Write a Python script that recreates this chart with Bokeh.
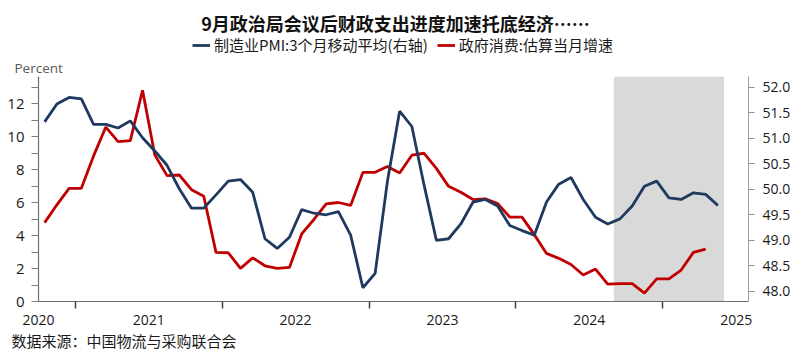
from bokeh.plotting import figure
from bokeh.layouts import column
from bokeh.models import (Range1d, LinearAxis, FixedTicker, BoxAnnotation, Legend,
                          LegendItem, Label, Title, NumeralTickFormatter)
from bokeh.embed import file_html
from bokeh.resources import INLINE

# ---------------- data ----------------
start_year, start_month = 2020, 10   # first observation: Oct 2020

pmi_3m_avg = [51.32, 51.67, 51.80, 51.77, 51.27, 51.27, 51.20, 51.34, 51.01, 50.75,
              50.47, 50.01, 49.63, 49.63, 49.89, 50.16, 50.19, 49.94, 49.03, 48.84,
              49.06, 49.60, 49.53, 49.50, 49.56, 49.10, 48.07, 48.35, 50.15, 51.53,
              51.23, 50.08, 49.00, 49.03, 49.32, 49.75, 49.80, 49.67, 49.29, 49.19,
              49.10, 49.75, 50.10, 50.23, 49.80, 49.45, 49.32, 49.42, 49.67, 50.06,
              50.16, 49.83, 49.80, 49.93, 49.90, 49.68]

gov_consumption = [4.79, 5.87, 6.87, 6.87, 8.84, 10.59, 9.71, 9.77, 12.82, 8.90,
                   7.64, 7.68, 6.79, 6.39, 2.98, 2.96, 2.01, 2.65, 2.17, 2.01,
                   2.07, 4.10, 4.98, 5.93, 6.01, 5.83, 7.84, 7.84, 8.20, 7.80,
                   8.88, 9.00, 8.08, 6.99, 6.63, 6.19, 6.23, 5.95, 5.12, 5.12,
                   4.06, 2.92, 2.62, 2.25, 1.61, 1.97, 1.05, 1.08, 1.08, 0.51,
                   1.37, 1.37, 1.91, 2.98, 3.18]

year_labels = ["2020", "2021", "2022", "2023", "2024", "2025"]
year_label_months = [(2020, 10), (2021, 7), (2022, 7), (2023, 7), (2024, 7), (2025, 7)]
year_boundaries = [2021, 2022, 2023, 2024, 2025]
shade_from = (2024, 9)
shade_to = (2025, 5)

left_ticks = [0, 2, 4, 6, 8, 10, 12]
left_minor = [1, 3, 5, 7, 9, 11, 13]
right_ticks = [48.0, 48.5, 49.0, 49.5, 50.0, 50.5, 51.0, 51.5, 52.0]

title_text = "9月政治局会议后财政支出进度加速托底经济……"
name_pmi = "制造业PMI:3个月移动平均(右轴)"
name_gov = "政府消费:估算当月增速"
left_unit = "Percent"
source_text = "数据来源：中国物流与采购联合会"


def midx(y, m):
    return (y - 2020) * 12 + (m - 1)


x0 = midx(start_year, start_month)
x_pmi = [x0 + i + 0.5 for i in range(len(pmi_3m_avg))]
x_gov = [x0 + i + 0.5 for i in range(len(gov_consumption))]
label_pos = [midx(y, m) for (y, m) in year_label_months]
label_pos[0] = x0
boundary_pos = [midx(y, 1) for y in year_boundaries]

NAVY = "#1f3a5f"
RED = "#c00000"
CJK = "Noto Sans CJK SC"
NUM = "Open Sans"
W = 798
LB, RB = 38, 50          # frame borders (shared by both figures)

# ---------------- header (title + legend) ----------------
HH = 56
hdr = figure(width=W, height=HH, output_backend="svg", toolbar_location=None,
             x_range=Range1d(LB, W - RB), y_range=Range1d(0, HH),
             x_axis_location=None, y_axis_location=None,
             min_border_left=LB, min_border_right=RB, min_border_top=0, min_border_bottom=0)
hdr.outline_line_color = None
hdr.grid.visible = False

hdr.add_layout(Label(x=395, y=HH - 22, text=title_text, text_align="center",
                     text_baseline="middle", text_font=CJK, text_font_size="18px",
                     text_font_style="bold", text_color="#111111"))

# legend swatches (the lines themselves lie outside the header's visible range)
d1 = hdr.line([-1000, -999], [-1000, -1000], line_color=NAVY, line_width=2.8)
d2 = hdr.line([-1000, -999], [-1000, -1000], line_color=RED, line_width=2.8)
legend = Legend(items=[LegendItem(label=name_pmi, renderers=[d1]),
                       LegendItem(label=name_gov, renderers=[d2])],
                orientation="horizontal", location=(192 - LB, HH - 55),
                label_text_font=CJK, label_text_font_size="15px", label_text_color="#1a1a1a",
                glyph_width=18, glyph_height=20, label_height=20, spacing=9, padding=0, margin=0,
                border_line_color=None, background_fill_alpha=0, label_standoff=4)
hdr.add_layout(legend, "center")

# ---------------- main chart ----------------
p = figure(width=W, height=363 - HH, output_backend="svg", toolbar_location=None,
           x_range=Range1d(x0, midx(2025, 8)), y_range=Range1d(0, 13.66),
           min_border_left=LB, min_border_right=RB, min_border_top=74 - HH,
           min_border_bottom=62)
p.extra_y_ranges = {"pmi": Range1d(47.80, 52.21)}
p.outline_line_color = None
p.grid.visible = False

p.add_layout(BoxAnnotation(left=midx(*shade_from), right=midx(*shade_to) + 1,
                           fill_color="#d9d9d9", fill_alpha=1.0, line_color=None,
                           level="underlay"))

p.line(x_gov, gov_consumption, line_color=RED, line_width=2.8)
p.line(x_pmi, pmi_3m_avg, line_color=NAVY, line_width=2.8, y_range_name="pmi")

xa = p.xaxis[0]
xa.ticker = FixedTicker(ticks=label_pos, minor_ticks=boundary_pos)
xa.major_label_overrides = {v: t for v, t in zip(label_pos, year_labels)}
xa.major_tick_out = 0
xa.major_tick_in = 0
xa.minor_tick_out = 7
xa.minor_tick_in = 0
xa.minor_tick_line_color = "#404040"
xa.minor_tick_line_width = 1.5
xa.axis_line_color = "#6d6d6d"
xa.axis_line_width = 1.2
xa.major_label_text_font = NUM
xa.major_label_text_font_size = "14px"
xa.major_label_text_color = "#1a1a1a"
xa.major_label_standoff = 6

ya = p.yaxis[0]
ya.ticker = FixedTicker(ticks=left_ticks, minor_ticks=left_minor)
ya.major_tick_out = 7
ya.major_tick_in = 0
ya.minor_tick_out = 7
ya.minor_tick_in = 0
ya.major_tick_line_color = "#808080"
ya.minor_tick_line_color = "#808080"
ya.axis_line_color = "#6d6d6d"
ya.axis_line_width = 1.2
ya.major_label_text_font = NUM
ya.major_label_text_font_size = "15px"
ya.major_label_text_color = "#1a1a1a"
ya.major_label_standoff = 7

ra = LinearAxis(y_range_name="pmi", ticker=FixedTicker(ticks=right_ticks),
                formatter=NumeralTickFormatter(format="0.0"))
ra.major_tick_out = 6
ra.major_tick_in = 0
ra.minor_tick_out = 0
ra.minor_tick_in = 0
ra.major_tick_line_color = "#909090"
ra.axis_line_color = "#a0a0a0"
ra.major_label_text_font = NUM
ra.major_label_text_font_size = "14px"
ra.major_label_text_color = "#1a1a1a"
ra.major_label_standoff = 8
p.add_layout(ra, "right")

p.add_layout(Title(text=left_unit, align="left", offset=14 - LB, standoff=0,
                   text_font=NUM, text_font_size="13.5px", text_font_style="normal",
                   text_color="#595959"), "above")
p.add_layout(Title(text=source_text, align="left", offset=11 - LB, standoff=1,
                   text_font=CJK, text_font_size="15px", text_font_style="normal",
                   text_color="#1a1a1a"), "below")

layout = column(hdr, p, spacing=0)
open("out.html", "w").write(file_html(layout, INLINE))
